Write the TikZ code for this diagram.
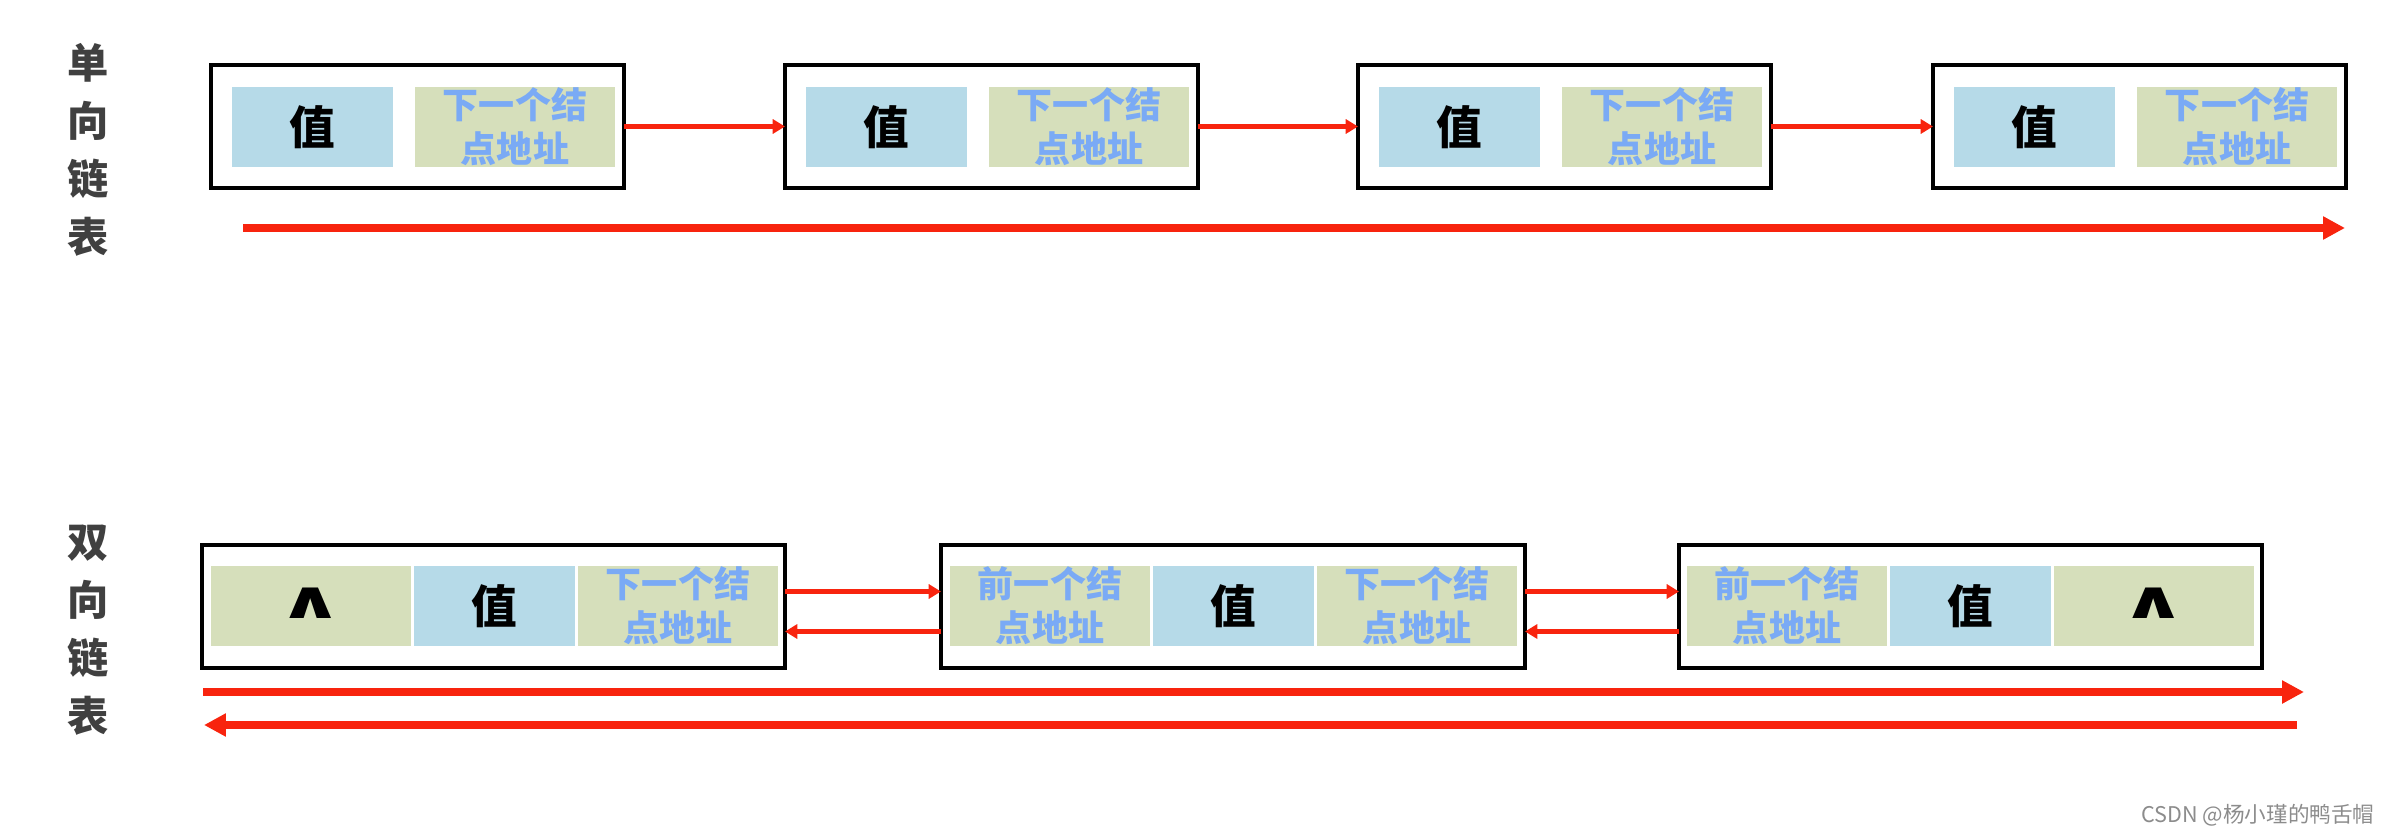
\documentclass[tikz,border=0pt]{standalone}
\usepackage{fontspec}
\setmainfont{Noto Sans CJK SC}
\newfontfamily\symfont{DejaVu Sans}
\usetikzlibrary{arrows.meta,calc}
\definecolor{cellblue}{RGB}{182,218,232}
\definecolor{cellgreen}{RGB}{214,223,187}
\definecolor{txtblue}{RGB}{122,170,245}
\definecolor{arrred}{RGB}{248,36,14}
\definecolor{lblgrey}{RGB}{64,64,64}
\definecolor{wmgrey}{RGB}{140,140,140}
\newcommand{\nullmark}{\raisebox{3pt}{\scalebox{1.55}[1]{∧}}}
\begin{document}
\begin{tikzpicture}[x=0.02cm,y=-0.02cm,
  nodebox/.style={draw=black, line width=2.4pt, fill=white, minimum width=#1*0.02cm,
    minimum height=123*0.02cm, anchor=north west, inner sep=0pt, outer sep=0pt},
  valcell/.style={fill=cellblue, minimum width=161*0.02cm, minimum height=80*0.02cm,
    anchor=north west, inner sep=0pt, outer sep=0pt, text=black,
    font=\bfseries\fontsize{26}{30}\selectfont},
  addrcell/.style={fill=cellgreen, minimum width=200*0.02cm, minimum height=80*0.02cm,
    anchor=north west, inner sep=0pt, outer sep=0pt, text=txtblue, align=center,
    font=\bfseries\fontsize{20.5}{25}\selectfont},
  nullcell/.style={fill=cellgreen, minimum width=200*0.02cm, minimum height=80*0.02cm,
    anchor=north west, inner sep=0pt, outer sep=0pt, text=black,
    font=\symfont\bfseries\fontsize{30}{30}\selectfont},
  lbl/.style={align=center, inner sep=0pt, text=lblgrey,
    font=\bfseries\fontsize{23.5}{33}\selectfont},
  sarr/.style={draw=arrred, line width=2.3pt, -{Triangle[length=7pt,width=8pt]}},
  larr/.style={draw=arrred, line width=4.5pt, -{Triangle[length=12.5pt,width=12.5pt]}},
]
\useasboundingbox (0,0) rectangle (2381,835);

% ---------- single linked list ----------
\node[lbl] (lab1) at (88,150) {单\\向\\链\\表};

\node[nodebox=413] (s1) at (211,65) {};
\node[nodebox=413] (s2) at (785,65) {};
\node[nodebox=413] (s3) at (1358,65) {};
\node[nodebox=413] (s4) at (1933,65) {};

\node[valcell] (s1v) at (232,87) {值};
\node[addrcell] (s1n) at (415,87) {下一个结\\点地址};
\node[valcell] (s2v) at (806,87) {值};
\node[addrcell] (s2n) at (989,87) {下一个结\\点地址};
\node[valcell] (s3v) at (1379,87) {值};
\node[addrcell] (s3n) at (1562,87) {下一个结\\点地址};
\node[valcell] (s4v) at (1954,87) {值};
\node[addrcell] (s4n) at (2137,87) {下一个结\\点地址};

\draw[sarr] (s1.east) -- (s2.west);
\draw[sarr] (s2.east) -- (s3.west);
\draw[sarr] (s3.east) -- (s4.west);

\coordinate (ts) at (243,228);
\coordinate (te) at (2345,228);
\draw[larr] (ts) -- (te);

% ---------- doubly linked list ----------
\node[lbl] (lab2) at (88,630) {双\\向\\链\\表};

\node[nodebox=583] (d1) at (202,545) {};
\node[nodebox=584] (d2) at (941,545) {};
\node[nodebox=583] (d3) at (1679,545) {};

\node[nullcell] (d1p) at (211,566) {\nullmark};
\node[valcell] (d1v) at (414,566) {值};
\node[addrcell] (d1n) at (578,566) {下一个结\\点地址};

\node[addrcell] (d2p) at (950,566) {前一个结\\点地址};
\node[valcell] (d2v) at (1153,566) {值};
\node[addrcell] (d2n) at (1317,566) {下一个结\\点地址};

\node[addrcell] (d3p) at (1687,566) {前一个结\\点地址};
\node[valcell] (d3v) at (1890,566) {值};
\node[nullcell] (d3n) at (2054,566) {\nullmark};

\draw[sarr] ($(d1.east)+(0,-15)$) -- ($(d2.west)+(0,-15)$);
\draw[sarr] ($(d2.west)+(0,25)$) -- ($(d1.east)+(0,25)$);
\draw[sarr] ($(d2.east)+(0,-15)$) -- ($(d3.west)+(0,-15)$);
\draw[sarr] ($(d3.west)+(0,25)$) -- ($(d2.east)+(0,25)$);

\coordinate (fs) at (203,692);
\coordinate (fe) at (2304,692);
\draw[larr] (fs) -- (fe);
\coordinate (bs) at (2297,725);
\coordinate (be) at (204,725);
\draw[larr] (bs) -- (be);

% watermark
\node[text=wmgrey, inner sep=0pt, font=\fontsize{12.3}{14}\selectfont] (wm) at (2258,815) {CSDN @杨小瑾的鸭舌帽};
\end{tikzpicture}
\end{document}
